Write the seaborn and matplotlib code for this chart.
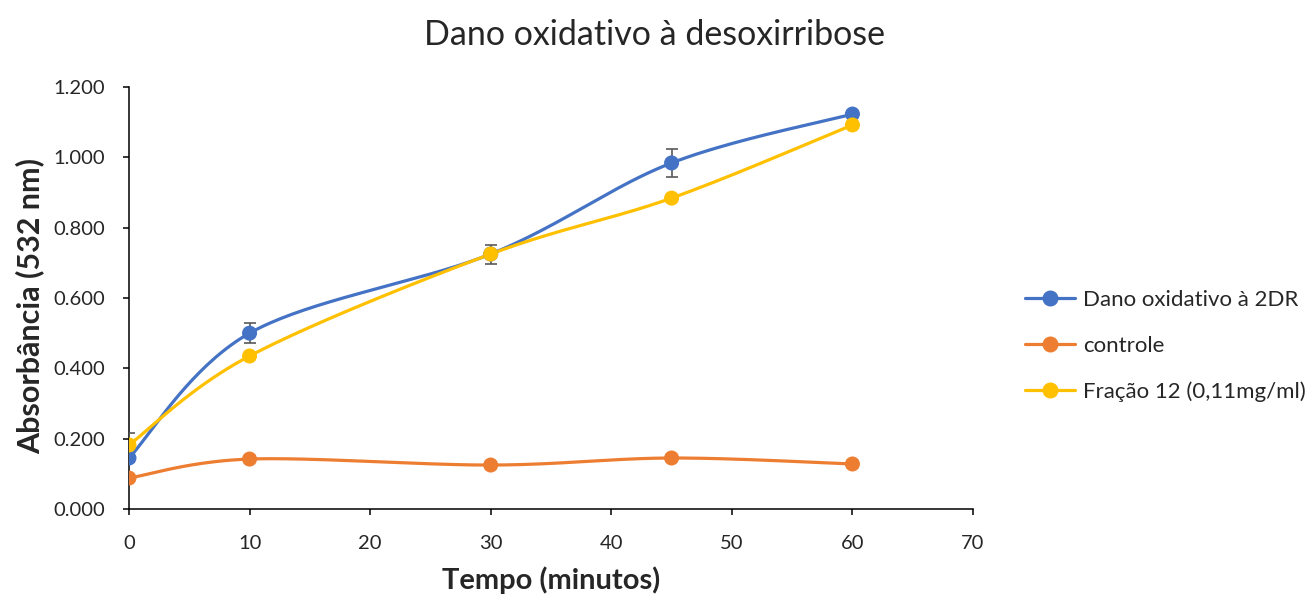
import numpy as np
import pandas as pd
import matplotlib
matplotlib.use("Agg")
import matplotlib.pyplot as plt
import seaborn as sns

# Sampling times (minutes)
tempo = [0, 10, 30, 45, 60]

# Absorbance at 532 nm for each series
dano_2dr = [0.145, 0.500, 0.725, 0.984, 1.123]
controle = [0.088, 0.142, 0.125, 0.145, 0.128]
fracao_12 = [0.182, 0.435, 0.725, 0.884, 1.092]

# Error bar half-widths
erro_dano = [0.010, 0.028, 0.027, 0.041, 0.006]
erro_controle = [0.005, 0.005, 0.005, 0.005, 0.005]
erro_fracao = [0.035, 0.006, 0.006, 0.006, 0.006]

series_names = ["Dano oxidativo à 2DR", "controle", "Fração 12 (0,11mg/ml)"]
series_values = [dano_2dr, controle, fracao_12]
series_errors = [erro_dano, erro_controle, erro_fracao]
colors = ["#4472C4", "#ED7D31", "#FFC000"]

x_ticks = [0, 10, 20, 30, 40, 50, 60, 70]
y_ticks = [0.0, 0.2, 0.4, 0.6, 0.8, 1.0, 1.2]

sns.set_style("white")
plt.rcParams["font.family"] = ["Lato", "DejaVu Sans"]


def smooth_curve(xs, ys, n=40):
    """Catmull-Rom style Bezier smoothing through every point."""
    xs = np.asarray(xs, float)
    ys = np.asarray(ys, float)
    px = np.concatenate([[xs[0]], xs, [xs[-1]]])
    py = np.concatenate([[ys[0]], ys, [ys[-1]]])
    out_x, out_y = [], []
    t = np.linspace(0, 1, n)
    for i in range(1, len(px) - 2):
        p0 = np.array([px[i], py[i]])
        p3 = np.array([px[i + 1], py[i + 1]])
        p1 = p0 + (np.array([px[i + 1], py[i + 1]]) - np.array([px[i - 1], py[i - 1]])) / 6
        p2 = p3 - (np.array([px[i + 2], py[i + 2]]) - np.array([px[i], py[i]])) / 6
        b = ((1 - t) ** 3)[:, None] * p0 + (3 * (1 - t) ** 2 * t)[:, None] * p1 \
            + (3 * (1 - t) * t ** 2)[:, None] * p2 + (t ** 3)[:, None] * p3
        out_x.extend(b[:, 0])
        out_y.extend(b[:, 1])
    return np.array(out_x), np.array(out_y)


fig = plt.figure(figsize=(13.08, 5.97), dpi=100)
ax = fig.add_axes([0.0986, 0.1474, 0.6453, 0.7069])

records = []
for name, vals in zip(series_names, series_values):
    for t_, v in zip(tempo, vals):
        records.append({"Tempo": t_, "Abs": v, "Serie": name})
df = pd.DataFrame(records)

for name, vals, errs, c in zip(series_names, series_values, series_errors, colors):
    cx, cy = smooth_curve(tempo, vals)
    ax.plot(cx, cy, color=c, lw=2.3, zorder=2, solid_capstyle="round")
    ax.errorbar(tempo, vals, yerr=errs, fmt="none", ecolor="#595959",
                elinewidth=1.2, capsize=4.5, capthick=1.2, zorder=3)

sns.scatterplot(data=df, x="Tempo", y="Abs", hue="Serie", palette=colors,
                s=117, edgecolor="none", ax=ax, zorder=4, legend=False)

ax.set_xlim(0, 70)
ax.set_ylim(0, 1.2)
ax.set_xticks(x_ticks)
ax.set_yticks(y_ticks)
ax.set_yticklabels([f"{v:.3f}" for v in y_ticks])
ax.tick_params(axis="both", labelsize=14.5, length=4.5, width=1.1, color="black",
               direction="out", bottom=True, left=True)
ax.tick_params(axis="x", pad=14)
ax.tick_params(axis="y", pad=13)

for side in ["top", "right"]:
    ax.spines[side].set_visible(False)
for side in ["left", "bottom"]:
    ax.spines[side].set_color("black")
    ax.spines[side].set_linewidth(1.1)

ax.set_xlabel("Tempo (minutos)", fontsize=21, fontweight="bold", va="center")
ax.xaxis.set_label_coords(0.5, -0.168)
ax.set_ylabel("Absorbância (532 nm)", fontsize=22, fontweight="bold", va="center")
ax.yaxis.set_label_coords(-0.117, 0.481)
fig.suptitle("Dano oxidativo à desoxirribose", fontsize=24.5, y=0.941, va="center")

handles = [plt.Line2D([], [], color=c, lw=2.3, marker="o", markersize=10.5)
           for c in colors]
fig.legend(handles, series_names, loc="center left",
           bbox_to_anchor=(0.7836, 0.4204), frameon=False, fontsize=16,
           handlelength=2.25, labelspacing=1.15, handletextpad=0.36,
           borderpad=0, borderaxespad=0)

fig.savefig("out.png", dpi=100)
